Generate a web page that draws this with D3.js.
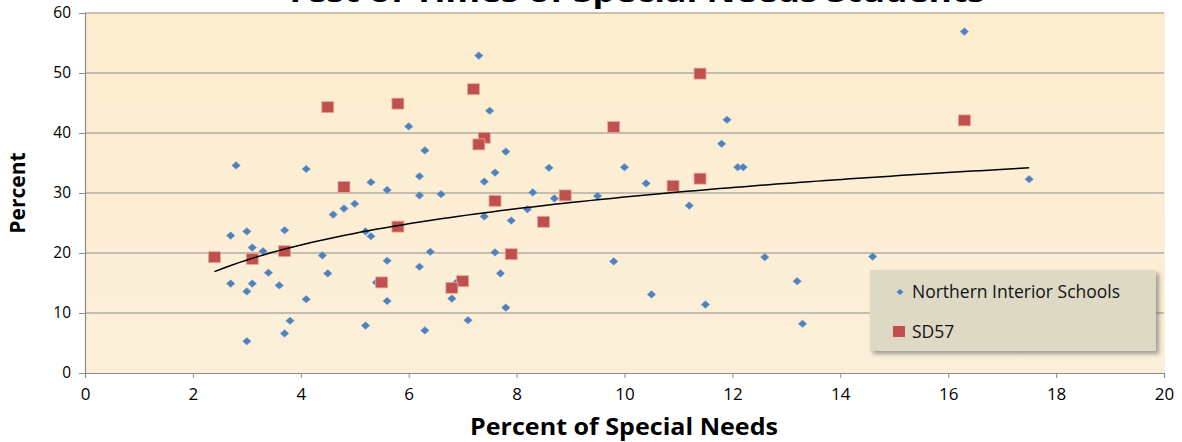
<!DOCTYPE html>
<html>
<head>
<meta charset="utf-8">
<script src="https://cdn.jsdelivr.net/npm/d3@7"></script>
<style>
  body { margin: 0; background: #fff; }
  svg { display: block; }
  text { font-family: "Open Sans", "DejaVu Sans", sans-serif; }
</style>
</head>
<body>
<div id="chart"></div>
<script>
// Northern Interior Schools: [percent special needs, percent]
var northern = [
  [2.7,22.9],[3.0,23.6],[3.7,23.8],[3.1,20.9],[3.3,20.3],[2.8,34.6],[4.1,34.0],[4.4,19.6],
  [3.4,16.7],[2.7,14.9],[3.1,14.9],[3.0,13.6],[3.6,14.6],[4.5,16.6],[5.4,15.1],[4.1,12.3],
  [5.6,12.0],[3.8,8.7],[3.7,6.6],[3.0,5.3],[5.2,7.9],[6.3,7.1],[4.6,26.4],[4.8,27.4],
  [5.0,28.2],[5.3,31.8],[5.6,30.5],[6.3,37.1],[6.2,32.8],[6.2,29.6],[5.2,23.6],[5.3,22.8],
  [5.6,18.7],[6.2,17.7],[6.4,20.2],[7.3,52.9],[7.5,43.7],[6.0,41.1],[7.8,36.9],[7.6,33.4],
  [7.4,31.9],[8.6,34.2],[10.0,34.3],[10.4,31.6],[6.6,29.8],[8.3,30.1],[8.7,29.1],[9.5,29.5],
  [11.2,27.9],[7.4,26.1],[7.9,25.4],[8.2,27.3],[7.6,20.1],[9.8,18.6],[7.7,16.6],[6.9,15.2],
  [6.8,12.4],[7.8,10.9],[10.5,13.1],[7.1,8.8],[11.9,42.2],[11.8,38.2],[12.1,34.3],[12.2,34.3],
  [12.6,19.3],[14.6,19.4],[13.2,15.3],[11.5,11.4],[13.3,8.2],[16.3,56.9],[17.5,32.3]
];
// SD57
var sd57 = [
  [2.4,19.3],[3.1,19.0],[3.7,20.3],[4.5,44.3],[4.8,31.0],[5.8,44.9],[5.8,24.4],[5.5,15.1],
  [7.2,47.3],[7.4,39.2],[7.3,38.1],[7.6,28.7],[8.9,29.6],[8.5,25.2],[7.9,19.8],[7.0,15.3],
  [6.8,14.2],[9.8,41.0],[10.9,31.2],[11.4,32.4],[11.4,49.9],[16.3,42.1]
];
var xTicks = [0,2,4,6,8,10,12,14,16,18,20];
var yTicks = [0,10,20,30,40,50,60];
var seriesNames = ["Northern Interior Schools", "SD57"];
var chartTitle = "Test of Times of Special Needs Students";

var width = 1182, height = 442;
var svg = d3.select("#chart").append("svg").attr("width", width).attr("height", height);

var x = d3.scaleLinear().domain([0, 20]).range([85, 1164]);
var y = d3.scaleLinear().domain([0, 60]).range([373, 13]);

var defs = svg.append("defs");
var grad = defs.append("linearGradient").attr("id", "bg").attr("x1", 0).attr("y1", 0).attr("x2", 0).attr("y2", 1);
grad.append("stop").attr("offset", "0%").attr("stop-color", "#fdedcf");
grad.append("stop").attr("offset", "100%").attr("stop-color", "#fbefd9");
defs.append("filter").attr("id", "shadow").attr("x", "-10%").attr("y", "-10%").attr("width", "130%").attr("height", "140%")
  .append("feDropShadow").attr("dx", 3).attr("dy", 3).attr("stdDeviation", 2).attr("flood-color", "#555").attr("flood-opacity", 0.55);

// title (cut off at the top, as in the original)
svg.append("text").attr("x", 635).attr("y", 1.8).attr("text-anchor", "middle")
  .style("font-size", "28px").style("font-weight", "bold")
  .attr("textLength", 700).attr("lengthAdjust", "spacingAndGlyphs").text(chartTitle);

// plot area
svg.append("rect").attr("x", x(0)).attr("y", y(60)).attr("width", x(20) - x(0) + 1).attr("height", y(0) - y(60))
  .attr("fill", "url(#bg)");

// gridlines
svg.append("g").selectAll("line").data(yTicks.filter(function(d) { return d > 0; })).enter().append("line")
  .attr("x1", x(0)).attr("x2", x(20)).attr("y1", function(d) { return y(d); }).attr("y2", function(d) { return y(d); })
  .attr("stroke", function(d) { return d == 60 ? "#9c8f78" : "#8c8c8c"; }).attr("stroke-width", 1.2);

// axes
var yAxis = svg.append("g").attr("transform", "translate(" + x(0) + ",0)")
  .call(d3.axisLeft(y).tickValues(yTicks).tickSize(6).tickPadding(8));
var xAxis = svg.append("g").attr("transform", "translate(0," + y(0) + ")")
  .call(d3.axisBottom(x).tickValues(xTicks).tickSize(5).tickPadding(10));
[yAxis, xAxis].forEach(function(a) {
  a.select(".domain").attr("stroke", "#8c8c8c").attr("stroke-width", 1.2);
  a.selectAll(".tick line").attr("stroke", "#8c8c8c");
  a.selectAll("text").attr("fill", "#000").style("font-size", "15.5px").attr("font-family", "'Open Sans', sans-serif");
});
xAxis.selectAll("text").attr("font-family", "'Liberation Sans Narrow', 'Liberation Sans', sans-serif").style("font-size", "17px");

svg.append("text").attr("x", 624).attr("y", 435).attr("text-anchor", "middle")
  .style("font-size", "23px").style("font-weight", "bold")
  .attr("textLength", 308).attr("lengthAdjust", "spacingAndGlyphs").text("Percent of Special Needs");
svg.append("text").attr("transform", "translate(25,193) rotate(-90)").attr("text-anchor", "middle")
  .style("font-size", "21px").style("font-weight", "bold").text("Percent");

// blue diamonds
svg.append("g").selectAll("path").data(northern).enter().append("path")
  .attr("d", "M0,-3.8L4.3,0L0,3.8L-4.3,0Z")
  .attr("transform", function(d) { return "translate(" + x(d[0]) + "," + y(d[1]) + ")"; })
  .attr("fill", "#4f81bd").attr("stroke", "#7fa3d0").attr("stroke-width", 0.5);

// red squares
svg.append("g").selectAll("rect").data(sd57).enter().append("rect")
  .attr("x", function(d) { return x(d[0]) - 6; }).attr("y", function(d) { return y(d[1]) - 5.5; })
  .attr("width", 12).attr("height", 11)
  .attr("fill", "#c0504d").attr("stroke", "#e8a9a0").attr("stroke-width", 0.8);

// logarithmic trendline fitted to all points
var all = northern.concat(sd57);
var n = all.length;
var sl = d3.sum(all, function(d) { return Math.log(d[0]); });
var sy = d3.sum(all, function(d) { return d[1]; });
var sll = d3.sum(all, function(d) { return Math.log(d[0]) * Math.log(d[0]); });
var sly = d3.sum(all, function(d) { return Math.log(d[0]) * d[1]; });
var a = (n * sly - sl * sy) / (n * sll - sl * sl);
var b = (sy - a * sl) / n;
var xExt = d3.extent(all, function(d) { return d[0]; });
var trend = d3.range(0, 101).map(function(i) {
  var xv = xExt[0] + (xExt[1] - xExt[0]) * i / 100;
  return [xv, a * Math.log(xv) + b];
});
svg.append("path").datum(trend)
  .attr("d", d3.line().x(function(d) { return x(d[0]); }).y(function(d) { return y(d[1]); }))
  .attr("fill", "none").attr("stroke", "#000").attr("stroke-width", 1.5);

// legend
var lg = svg.append("g").attr("transform", "translate(870,270)");
lg.append("rect").attr("width", 286).attr("height", 81).attr("fill", "#ddd9c4").attr("filter", "url(#shadow)");
lg.append("path").attr("d", "M0,-3L3.5,0L0,3L-3.5,0Z").attr("transform", "translate(30,22)").attr("fill", "#4f81bd");
lg.append("rect").attr("x", 23).attr("y", 56).attr("width", 12).attr("height", 11).attr("fill", "#c0504d");
lg.selectAll("text.lab").data(seriesNames).enter().append("text")
  .attr("x", 42).attr("y", function(d, i) { return 22 + i * 40; }).attr("dy", "0.35em")
  .style("font-size", "17.5px").attr("fill", "#111").text(function(d) { return d; });
</script>
</body>
</html>
